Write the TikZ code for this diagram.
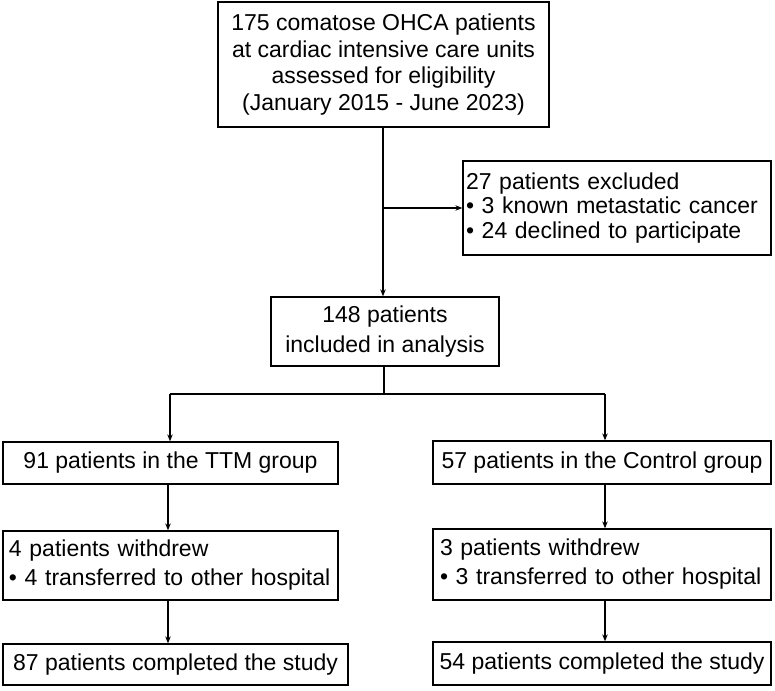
\documentclass[tikz,border=0pt]{standalone}
\usepackage{fontspec}
\setmainfont{Liberation Sans}
\usetikzlibrary{arrows.meta}
\begin{document}
\begin{tikzpicture}[x=1pt,y=-1pt,
  box/.style={draw, line width=1.3pt, inner sep=0pt, font=\fontsize{23}{26.5}\selectfont},
  lbox/.style={box, align=left},
  arr/.style={-{Stealth[length=7pt,width=5.5pt]}, line width=1.1pt},
  conn/.style={line width=1.1pt}]
\useasboundingbox (0,0) rectangle (775,690);
\node[box, align=center, minimum width=331pt, minimum height=125pt] (top) at (383.5,64.5)
  {175 comatose OHCA patients\\at cardiac intensive care units\\assessed for eligibility\\(January 2015 - June 2023)};
\node[lbox, font=\fontsize{23}{24.5}\selectfont, text width=302pt, inner xsep=3pt, minimum height=94pt] (excl) at (617,208)
  {27 patients excluded\\• 3 known metastatic cancer\\• 24 declined to participate};
\node[box, align=center, font=\fontsize{23}{30}\selectfont, minimum width=228pt, minimum height=69pt] (mid) at (385,331.5)
  {148 patients\\included in analysis};
\node[box, align=center, minimum width=335pt, minimum height=42pt] (ttm) at (170.5,463)
  {91 patients in the TTM group};
\node[box, align=center, minimum width=338pt, minimum height=43pt] (ctrl) at (602,462.5)
  {57 patients in the Control group};
\node[lbox, font=\fontsize{23}{29}\selectfont, text width=323pt, inner xsep=6pt, minimum height=69pt] (wl) at (170.5,565.5)
  {4 patients withdrew\\• 4 transferred to other hospital};
\node[lbox, font=\fontsize{23}{29}\selectfont, text width=324pt, inner xsep=7pt, minimum height=71pt] (wr) at (602,564.5)
  {3 patients withdrew\\• 3 transferred to other hospital};
\node[box, align=center, minimum width=345pt, minimum height=41pt] (cl) at (175.5,664.5)
  {87 patients completed the study};
\node[box, align=center, minimum width=338pt, minimum height=43pt] (cr) at (602,663.5)
  {54 patients completed the study};
\coordinate (tv) at (383,208);
\coordinate (split) at (384,394);
\coordinate (lb) at (170,394);
\coordinate (rb) at (605,394);
\coordinate (lv) at (168,0);
\draw[arr] (top.south -| tv) -- (mid.north -| tv);
\draw[arr] (tv) -- (excl.west |- tv);
\draw[conn] (mid.south -| split) -- (split);
\draw[conn] (lb) -- (rb);
\draw[arr] (lb) -- (ttm.north -| lb);
\draw[arr] (rb) -- (ctrl.north -| rb);
\draw[arr] (ttm.south -| lv) -- (wl.north -| lv);
\draw[arr] (wl.south -| lv) -- (cl.north -| lv);
\draw[arr] (ctrl.south -| rb) -- (wr.north -| rb);
\draw[arr] (wr.south -| rb) -- (cr.north -| rb);
\end{tikzpicture}
\end{document}
